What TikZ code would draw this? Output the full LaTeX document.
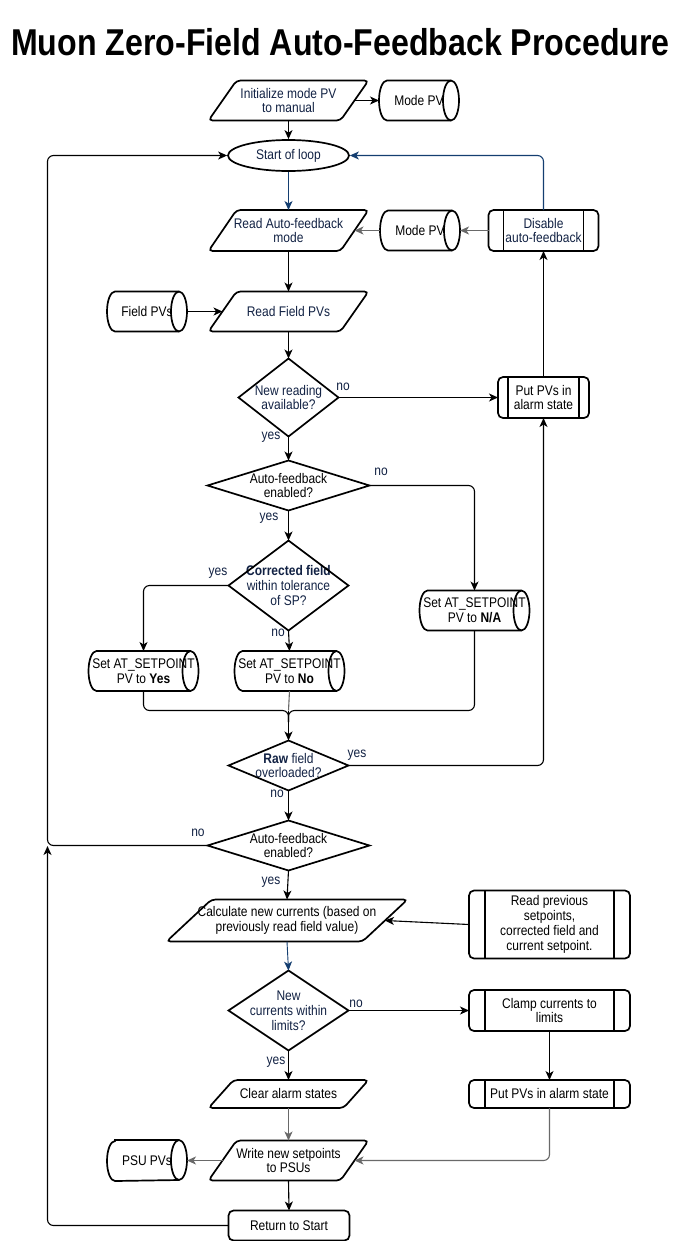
\documentclass[tikz,border=0pt]{standalone}
\usepackage{fontspec}
\setmainfont{Liberation Sans}[FakeStretch=0.86]
\usetikzlibrary{arrows.meta,shapes.geometric}
\definecolor{navy}{RGB}{18,34,68}
\definecolor{flowblue}{RGB}{20,62,112}
\definecolor{flowgray}{RGB}{105,105,105}
\tikzset{
  txt/.style={font=\fontsize{14}{15}\selectfont},
  box/.style 2 args={txt, rectangle, inner sep=0pt, outer sep=0pt, align=center, minimum width=#1bp, minimum height=#2bp},
  shp/.style={line width=1.7bp, draw=black},
  conn/.style={line width=1.1bp, draw=black, rounded corners=6bp, -{Stealth[length=9bp,width=8bp,inset=2.5bp]}},
  plain/.style={line width=1.1bp, draw=black, rounded corners=6bp},
  lbl/.style={txt, text=navy, inner sep=0pt},
  nv/.style={text=navy},
}
\begin{document}
\begin{tikzpicture}[x=1bp,y=1bp]
\fill[white] (0,0) rectangle (681,-1241);
\useasboundingbox (0,0) rectangle (681,-1241);

\node[font=\fontsize{37.5}{40}\selectfont\bfseries, anchor=base, inner sep=0pt] (title) at (340.5,-55) {Muon Zero-Field Auto-Feedback Procedure};

% nodes
\node[box={160}{40}, nv] (init) at (288.5,-100.5) {Initialize mode PV\\to manual};
\node[box={80}{40}] (modepv) at (419,-100.5) {Mode PV};
\node[txt, nv, ellipse, shp, minimum width=121bp, minimum height=31bp, inner sep=0pt] (start) at (288.5,-155.5) {Start of loop};
\node[box={160}{41}, nv] (readaf) at (288.5,-230.5) {Read Auto-feedback\\mode};
\node[box={80}{40}] (modepv2) at (420,-230.5) {Mode PV};
\node[box={110}{41}, nv] (disable) at (543.5,-230.5) {Disable\\auto-feedback};
\node[box={160}{40}, nv] (readfield) at (288.5,-311.5) {Read Field PVs};
\node[box={80}{40}] (fieldpvs) at (147,-311.5) {Field PVs};
\node[box={100}{78}, nv] (d1) at (288.5,-397.5) {New reading\\available?};
\node[box={91}{41}] (alarm1) at (543.5,-397.5) {Put PVs in\\alarm state};
\node[box={162}{50}] (d2) at (288.5,-485.5) {Auto-feedback\\enabled?};
\node[box={120}{90}, nv] (d3) at (288.5,-585.5) {\textbf{Corrected field}\\within tolerance\\of SP?};
\node[box={110}{40}] (na) at (474.5,-610.5) {Set AT\_SETPOINT\\PV to \textbf{N/A}};
\node[box={110}{40}] (yescyl) at (143.5,-671) {Set AT\_SETPOINT\\PV to \textbf{Yes}};
\node[box={110}{40}] (nocyl) at (289.5,-671) {Set AT\_SETPOINT\\PV to \textbf{No}};
\coordinate (m) at (288.5,-710.5);
\coordinate (mm) at (288.5,-722);
\node[box={120}{50}, nv] (d4) at (288.5,-765.5) {\textbf{Raw} field\\overloaded?};
\node[box={162}{50}] (d5) at (288.5,-845.5) {Auto-feedback\\enabled?};
\node[box={241}{42}] (calc) at (287,-920.5) {Calculate new currents (based on\\previously read field value)};
\node[box={161}{68}] (readprev) at (549.5,-924.5) {Read previous\\setpoints,\\corrected field and\\current setpoint.};
\node[box={120}{80}, nv] (d6) at (288.5,-1010.5) {New\\currents within\\limits?};
\node[box={161}{41}] (clamp) at (549.5,-1010.5) {Clamp currents to\\limits};
\node[box={160}{28}] (clear) at (288.5,-1094) {Clear alarm states};
\node[box={161}{28}] (alarm2) at (549.5,-1094) {Put PVs in alarm state};
\node[box={160}{40}] (write) at (288.5,-1160.5) {Write new setpoints\\to PSUs};
\node[box={80}{41}] (psu) at (147,-1160.5) {PSU PVs};
\node[box={121}{30}, shp, rounded corners=5bp] (ret) at (289,-1225.5) {Return to Start};

% shapes: parallelograms
\foreach \n/\s in {init/28, readaf/28, readfield/28, calc/45, clear/25, write/28} {
  \draw[shp, rounded corners=4bp] ([xshift=\s bp]\n.north west) -- (\n.north east) -- ([xshift=-\s bp]\n.south east) -- (\n.south west) -- cycle;
}
% data stores (cylinders)
\foreach \n in {modepv, modepv2, fieldpvs, psu, na, yescyl, nocyl} {
  \draw[shp] ([xshift=8bp]\n.north west) -- ([xshift=-8bp]\n.north east)
    arc[start angle=90, end angle=-90, x radius=8bp, y radius=20bp]
    -- ([xshift=8bp]\n.south west)
    arc[start angle=270, end angle=90, x radius=8bp, y radius=20bp] -- cycle;
  \draw[shp] ([xshift=-8bp]\n.north east) arc[start angle=90, end angle=270, x radius=8bp, y radius=20bp];
}
% predefined processes
\foreach \n/\i in {disable/15, alarm1/10, readprev/16, clamp/16, alarm2/16} {
  \draw[shp, rounded corners=5bp] (\n.north west) rectangle (\n.south east);
  \draw[shp] ([xshift=\i bp]\n.north west) -- ([xshift=\i bp]\n.south west)
             ([xshift=-\i bp]\n.north east) -- ([xshift=-\i bp]\n.south east);
}
% decisions
\foreach \n in {d1, d2, d3, d4, d5, d6} {
  \draw[shp] (\n.north) -- (\n.east) -- (\n.south) -- (\n.west) -- cycle;
}

% connectors
\coordinate (ltop) at (47.5,-155.5);
\coordinate (lmid) at (47.5,-846);
\draw[conn] ([xshift=-14bp]init.east) -- (modepv.west);
\draw[conn] (init.south) -- (start.north);
\draw[conn, draw=flowblue] (start.south) -- (readaf.north);
\draw[conn, draw=flowblue] (disable.north) |- (start.east);
\draw[conn, draw=flowgray] (disable.west) -- (modepv2.east);
\draw[conn, draw=flowgray] (modepv2.west) -- ([xshift=-14bp]readaf.east);
\draw[conn] (readaf.south) -- (readfield.north);
\draw[conn] (fieldpvs.east) -- ([xshift=14bp]readfield.west);
\draw[conn] (readfield.south) -- (d1.north);
\draw[conn] (d1.east) -- (alarm1.west);
\draw[conn] (alarm1.north) -- (disable.south);
\draw[conn] (d1.south) -- (d2.north);
\draw[conn] (d2.east) -| (na.north);
\draw[conn] (d2.south) -- (d3.north);
\draw[conn] (d3.west) -| (yescyl.north);
\draw[conn] (d3.south) -- (nocyl.north);
\draw[plain] (yescyl.south) |- (m) -- (mm);
\draw[plain] (na.south) |- (m) -- (mm);
\draw[plain, draw=flowgray] (nocyl.south) -- (m);
\draw[conn] (m) -- (d4.north);
\draw[conn] (d4.east) -| (alarm1.south);
\draw[conn] (d4.south) -- (d5.north);
\draw[conn] (d5.west) -| (ltop) -- (start.west);
\draw[conn] (ret.west) -| (lmid);
\draw[conn] (d5.south) -- (calc.north);
\draw[conn] (readprev.west) -- ([xshift=-22.5bp]calc.east);
\draw[conn, draw=flowblue, line width=0.9bp] (calc.south) -- (d6.north);
\draw[conn] (d6.east) -- (clamp.west);
\draw[conn] (d6.south) -- (clear.north);
\draw[conn] (clamp.south) -- (alarm2.north);
\draw[conn, draw=flowgray] (clear.south) -- (write.north);
\draw[conn, draw=flowgray] (alarm2.south) |- ([xshift=-14bp]write.east);
\draw[conn, draw=flowgray] ([xshift=14bp]write.west) -- (psu.east);
\draw[conn] (write.south) -- (ret.north);

% labels
\node[lbl] (l1) at (343,-387) {no};
\node[lbl] (l2) at (271,-437) {yes};
\node[lbl] (l3) at (381,-472) {no};
\node[lbl] (l4) at (269,-518) {yes};
\node[lbl] (l5) at (218,-573) {yes};
\node[lbl] (l6) at (278,-633) {no};
\node[lbl] (l7) at (357,-755) {yes};
\node[lbl] (l8) at (277,-794) {no};
\node[lbl] (l9) at (198,-833) {no};
\node[lbl] (l10) at (271,-882) {yes};
\node[lbl] (l11) at (356,-1004) {no};
\node[lbl] (l12) at (276,-1062) {yes};
\end{tikzpicture}
\end{document}
